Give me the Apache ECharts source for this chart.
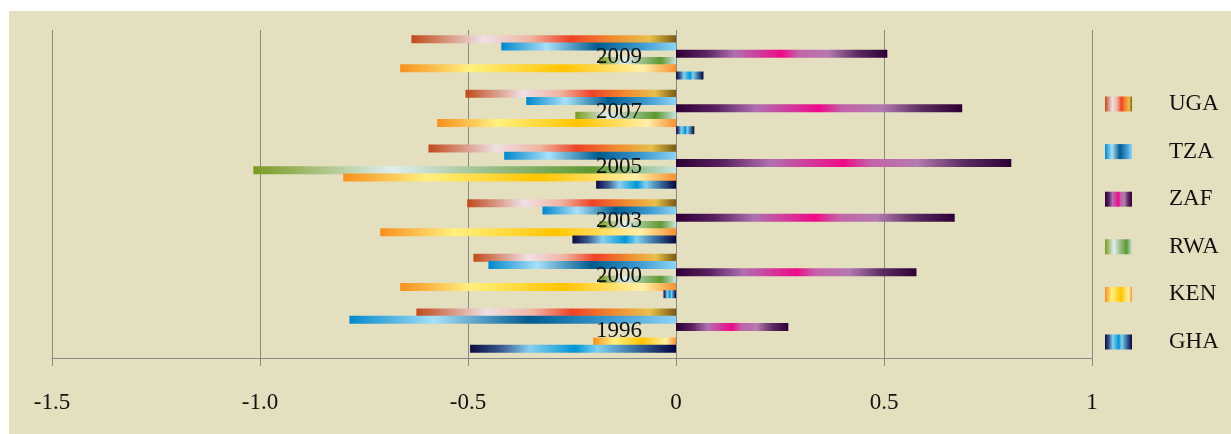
<!DOCTYPE html>
<html>
<head>
<meta charset="utf-8">
<script src="https://cdn.jsdelivr.net/npm/echarts@6/dist/echarts.min.js"></script>
<style>
  html, body { margin: 0; padding: 0; background: #ffffff; }
  #chart { position: absolute; left: 9px; top: 11px; width: 1222px; height: 423px; background: #e3dfbf; }
</style>
</head>
<body>
<div id="chart"></div>
<script>
// Years along the vertical axis (bottom to top)
const years = ['1996', '2000', '2003', '2005', '2007', '2009'];

// Values per country, one entry per year
const UGA = [-0.624, -0.487, -0.502, -0.595, -0.506, -0.636];
const TZA = [-0.785, -0.451, -0.321, -0.413, -0.360, -0.420];
const ZAF = [0.270, 0.578, 0.670, 0.806, 0.688, 0.508];
const RWA = [null, -0.184, -0.184, -1.016, -0.242, -0.184];
const KEN = [-0.199, -0.663, -0.711, -0.800, -0.574, -0.663];
const GHA = [-0.495, -0.030, -0.249, -0.192, 0.044, 0.066];

const countries = ['UGA', 'TZA', 'ZAF', 'RWA', 'KEN', 'GHA'];
const tickLabels = { '-1.5': '-1.5', '-1': '-1.0', '-0.5': '-0.5', '0': '0', '0.5': '0.5', '1': '1' };

// Value axis range
const X_MIN = -1.5, X_MAX = 1, X_STEP = 0.5;

// Metallic-style horizontal gradients for each country
function grad(stops) {
  return {
    type: 'linear', x: 0, y: 0, x2: 1, y2: 0,
    colorStops: stops.map(s => ({ offset: s[0], color: s[1] }))
  };
}
const fills = {
  UGA: grad([[0, '#bf4a1a'], [0.27, '#f0e0e6'], [0.45, '#f0b4a2'], [0.6, '#ee4226'], [0.76, '#f08a30'], [0.9, '#e8c04c'], [1, '#7a5a10']]),
  TZA: grad([[0, '#0088cc'], [0.26, '#a8e0f8'], [0.55, '#005b8f'], [0.8, '#3c9ad0'], [1, '#8dd3f5']]),
  ZAF: grad([[0, '#2d0035'], [0.14, '#5a2060'], [0.28, '#b070b0'], [0.5, '#ee0a8a'], [0.58, '#c462a8'], [0.72, '#b47ab0'], [0.86, '#5a2a60'], [1, '#2d0035']]),
  RWA: grad([[0, '#7a9a20'], [0.33, '#e0eef0'], [0.55, '#9cc08c'], [0.8, '#5e9830'], [1, '#c8e4dc']]),
  KEN: grad([[0, '#f7901e'], [0.25, '#fff080'], [0.59, '#ffc400'], [0.88, '#fff0a8'], [1, '#f89030']]),
  GHA: grad([[0, '#0a0a40'], [0.15, '#3a5a90'], [0.29, '#88d0f0'], [0.51, '#0095d5'], [0.62, '#80d0f0'], [0.8, '#3a6ea0'], [1, '#050540']])
};
const values = { UGA, TZA, ZAF, RWA, KEN, GHA };

const FONT = '"Liberation Serif", "DejaVu Serif", serif';
const FONT_SIZE = 23;
const GRID_W = 1040;
// the year axis sits on the zero line of the value axis
const yAxisOffset = -((0 - X_MIN) / (X_MAX - X_MIN)) * GRID_W;

const chart = echarts.init(document.getElementById('chart'));

chart.setOption({
  animation: false,
  backgroundColor: 'transparent',
  textStyle: { fontFamily: FONT },
  grid: { left: 43, top: 19, width: GRID_W, height: 328, containLabel: false, outerBoundsMode: 'none' },
  legend: {
    orient: 'vertical',
    left: 1091,
    top: 76.5,
    data: countries,
    icon: 'rect',
    itemWidth: 27,
    itemHeight: 15,
    itemGap: 24.6,
    selectedMode: false,
    textStyle: { fontFamily: FONT, fontSize: FONT_SIZE, color: '#111', lineHeight: 23, padding: [0, 0, 0, 32] }
  },
  xAxis: {
    type: 'value',
    min: X_MIN,
    max: X_MAX,
    interval: X_STEP,
    axisLine: { show: true, lineStyle: { color: '#888888', width: 1 } },
    axisTick: { show: true, length: 8, lineStyle: { color: '#888888', width: 1 } },
    splitLine: { show: true, lineStyle: { color: '#888888', width: 1 } },
    axisLabel: {
      margin: 33,
      fontFamily: FONT,
      fontSize: FONT_SIZE,
      color: '#111',
      formatter: v => tickLabels[String(v)] !== undefined ? tickLabels[String(v)] : String(v)
    }
  },
  yAxis: {
    type: 'category',
    data: years,
    z: 10,
    position: 'left',
    offset: yAxisOffset,
    axisLine: { show: false, onZero: false },
    axisTick: { show: false },
    splitLine: { show: false },
    axisLabel: { margin: 34, fontFamily: FONT, fontSize: FONT_SIZE, color: '#111' }
  },
  series: countries.map(name => ({
    name: name,
    type: 'bar',
    data: values[name],
    barWidth: 8,
    barGap: '-9%',
    itemStyle: { color: fills[name] },
    emphasis: { disabled: true }
  }))
});
</script>
</body>
</html>
